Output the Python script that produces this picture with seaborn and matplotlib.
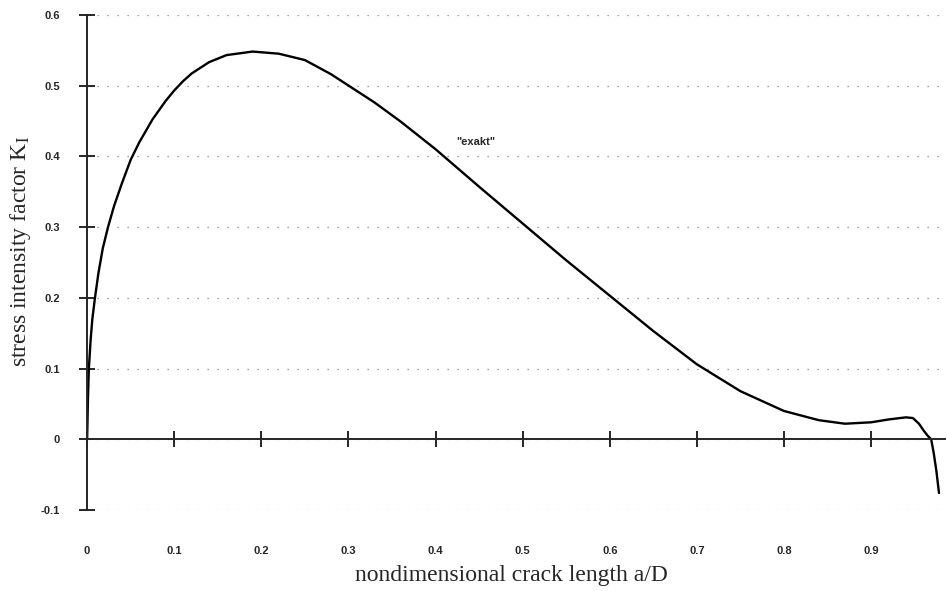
import numpy as np
import pandas as pd
import matplotlib
matplotlib.use("Agg")
import matplotlib.pyplot as plt
import seaborn as sns

# curve
crack_length = [0, 0.001, 0.002, 0.004, 0.006, 0.009, 0.013, 0.018, 0.024, 0.031,
                0.04, 0.05, 0.06, 0.075, 0.09, 0.1, 0.11, 0.12, 0.14, 0.16, 0.19,
                0.22, 0.25, 0.28, 0.3, 0.33, 0.36, 0.4, 0.45, 0.5, 0.55,
                0.6, 0.65, 0.7, 0.75, 0.8, 0.84, 0.87, 0.9, 0.92, 0.94,
                0.948, 0.955, 0.96, 0.965, 0.969, 0.972, 0.975, 0.978]
k_exact = [0, 0.06, 0.10, 0.14, 0.17, 0.20, 0.235, 0.27, 0.30, 0.33,
           0.362, 0.395, 0.42, 0.452, 0.478, 0.493, 0.506, 0.517, 0.533, 0.543, 0.548,
           0.545, 0.536, 0.516, 0.50, 0.476, 0.449, 0.41, 0.357, 0.305, 0.253,
           0.203, 0.153, 0.106, 0.068, 0.04, 0.027, 0.022, 0.024, 0.028, 0.031,
           0.03, 0.022, 0.013, 0.005, 0.0, -0.02, -0.045, -0.076]

x_ticks = [0, 0.1, 0.2, 0.3, 0.4, 0.5, 0.6, 0.7, 0.8, 0.9]
x_tick_labels = ["0", "0.1", "0.2", "0.3", "0.4", "0.5", "0.6", "0.7", "0.8", "0.9"]
y_ticks = [-0.1, 0, 0.1, 0.2, 0.3, 0.4, 0.5, 0.6]
y_tick_labels = ["-0.1", "0", "0.1", "0.2", "0.3", "0.4", "0.5", "0.6"]
curve_label = '"exakt"'

sns.set_style("white")
plt.rcParams["font.family"] = ["Liberation Sans", "DejaVu Sans"]
plt.rcParams["mathtext.fontset"] = "stix"

df = pd.DataFrame({"a/D": crack_length, "K": k_exact})

fig = plt.figure(figsize=(9.47, 5.91), dpi=100)
ax = fig.add_axes([0.092, 0.137, 0.906, 0.838])

sns.lineplot(data=df, x="a/D", y="K", sort=False, color="black", linewidth=1.7, ax=ax)

ax.set_xlim(0, 0.985)
ax.set_ylim(-0.1, 0.6)

# horizontal axis drawn through zero, with crossing ticks
for s in ["top", "right"]:
    ax.spines[s].set_visible(False)
ax.spines["bottom"].set_position(("data", 0))
ax.spines["bottom"].set_linewidth(1.4)
ax.spines["left"].set_linewidth(1.4)
ax.set_xticks(x_ticks)
ax.tick_params(axis="x", bottom=True, direction="inout", length=11, width=1.4,
               labelbottom=False)
ax.set_yticks(y_ticks)
ax.set_yticklabels(y_tick_labels)
ax.tick_params(axis="y", left=True, direction="inout", length=11, width=1.4, pad=14,
               labelsize=8)
for t in ax.get_yticklabels():
    t.set_fontweight("bold")

# tick labels sit under the plot box
sec = ax.secondary_xaxis(0.0)
sec.set_xticks(x_ticks)
sec.set_xticklabels(x_tick_labels)
sec.tick_params(axis="x", length=0, pad=26, labelsize=8)
sec.spines["bottom"].set_visible(False)
for t in sec.get_xticklabels():
    t.set_fontweight("bold")

ax.grid(axis="y", linestyle=(0, (1, 7)), color="#888888", linewidth=0.9)
ax.set_axisbelow(True)

ax.set_xlabel("")
ax.set_ylabel("")
fig.text(0.54, 0.027, "nondimensional crack length a/D", ha="center", va="center",
         fontsize=17, family="Liberation Serif")
fig.text(0.022, 0.575, r"stress intensity factor K$_{\rm I}$", ha="center", va="center",
         rotation=90, fontsize=17, family="Liberation Serif")

ax.text(0.446, 0.42, curve_label, fontsize=8, fontweight="bold", ha="center", va="center")

fig.savefig("out.png", dpi=100)
